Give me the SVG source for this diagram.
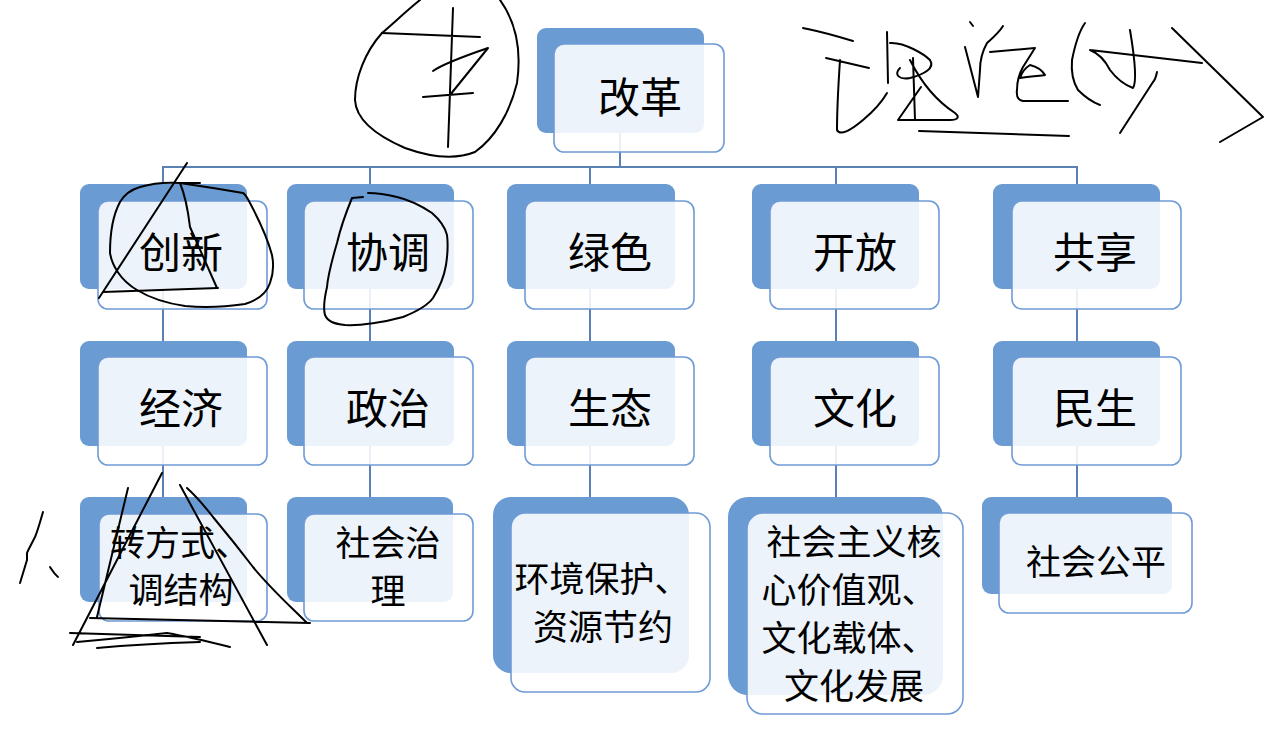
<svg xmlns="http://www.w3.org/2000/svg" width="1285" height="731" viewBox="0 0 1285 731">
<style>
.bk{fill:#6B9BD3}
.fr{fill:#ffffff;fill-opacity:0.88;stroke:#6F9BD6;stroke-width:1.6}
.t{font-family:"Noto Sans CJK SC","Noto Sans",sans-serif;fill:#000;text-anchor:middle;dominant-baseline:central}
.t42{font-size:42px}
.t35{font-size:35px}
.cn{stroke:#5A80B4;stroke-width:2;fill:none}
.ink{fill:none;stroke:#000;stroke-width:2;stroke-linecap:round;stroke-linejoin:round}
</style>
<rect width="1285" height="731" fill="#fff"/>
<g id="connectors">
<line class="cn" x1="620" y1="132" x2="620" y2="167"/>
<line class="cn" x1="162" y1="167" x2="1078" y2="167"/>
<line class="cn" x1="163" y1="167" x2="163" y2="514"/>
<line class="cn" x1="370" y1="167" x2="370" y2="514"/>
<line class="cn" x1="590" y1="167" x2="590" y2="514"/>
<line class="cn" x1="836" y1="167" x2="836" y2="514"/>
<line class="cn" x1="1077" y1="167" x2="1077" y2="514"/>
</g>
<g id="n-gaige"><rect class="bk" x="537" y="28" width="167" height="105" rx="9"/><rect class="fr" x="554" y="44" width="170" height="108" rx="10"/><text class="t t42" x="640" y="94">改革</text></g>
<g id="n-chuangxin"><rect class="bk" x="80" y="184" width="167" height="105" rx="9"/><rect class="fr" x="98" y="201" width="169" height="108" rx="10"/><text class="t t42" x="181" y="249">创新</text></g>
<g id="n-xietiao"><rect class="bk" x="287" y="184" width="167" height="105" rx="9"/><rect class="fr" x="304" y="201" width="169" height="108" rx="10"/><text class="t t42" x="388" y="249">协调</text></g>
<g id="n-lvse"><rect class="bk" x="507" y="184" width="168" height="105" rx="9"/><rect class="fr" x="525" y="201" width="169" height="108" rx="10"/><text class="t t42" x="610" y="249">绿色</text></g>
<g id="n-kaifang"><rect class="bk" x="752" y="184" width="167" height="105" rx="9"/><rect class="fr" x="770" y="201" width="169" height="108" rx="10"/><text class="t t42" x="855" y="249">开放</text></g>
<g id="n-gongxiang"><rect class="bk" x="993" y="184" width="167" height="105" rx="9"/><rect class="fr" x="1012" y="201" width="169" height="108" rx="10"/><text class="t t42" x="1095" y="249">共享</text></g>
<g id="n-jingji"><rect class="bk" x="80" y="341" width="167" height="105" rx="9"/><rect class="fr" x="98" y="357" width="169" height="108" rx="10"/><text class="t t42" x="181" y="405">经济</text></g>
<g id="n-zhengzhi"><rect class="bk" x="287" y="341" width="167" height="105" rx="9"/><rect class="fr" x="304" y="357" width="169" height="108" rx="10"/><text class="t t42" x="388" y="405">政治</text></g>
<g id="n-shengtai"><rect class="bk" x="507" y="341" width="168" height="105" rx="9"/><rect class="fr" x="525" y="357" width="169" height="108" rx="10"/><text class="t t42" x="610" y="405">生态</text></g>
<g id="n-wenhua"><rect class="bk" x="752" y="341" width="167" height="105" rx="9"/><rect class="fr" x="770" y="357" width="169" height="108" rx="10"/><text class="t t42" x="855" y="405">文化</text></g>
<g id="n-minsheng"><rect class="bk" x="993" y="341" width="167" height="105" rx="9"/><rect class="fr" x="1012" y="357" width="169" height="108" rx="10"/><text class="t t42" x="1095" y="405">民生</text></g>
<g id="n-zhuan"><rect class="bk" x="80" y="497" width="167" height="105" rx="9"/><rect class="fr" x="99" y="514" width="168" height="107" rx="10"/><text class="t t35" x="180" y="540">转方式、</text><text class="t t35" x="181" y="587">调结构</text></g>
<g id="n-shehuizhili"><rect class="bk" x="287" y="497" width="166" height="105" rx="9"/><rect class="fr" x="304" y="514" width="169" height="107" rx="10"/><text class="t t35" x="388" y="540">社会治</text><text class="t t35" x="388" y="588">理</text></g>
<g id="n-huanjing"><rect class="bk" x="493" y="497" width="196" height="176" rx="18"/><rect class="fr" x="511" y="513" width="199" height="179" rx="14"/><text class="t t35" x="602" y="576">环境保护、</text><text class="t t35" x="603" y="624">资源节约</text></g>
<g id="n-hexin"><rect class="bk" x="728" y="497" width="215" height="198" rx="20"/><rect class="fr" x="747" y="513" width="216" height="201" rx="16"/><text class="t t35" x="854" y="539">社会主义核</text><text class="t t35" x="849" y="587">心价值观、</text><text class="t t35" x="849" y="635">文化载体、</text><text class="t t35" x="854" y="683">文化发展</text></g>
<g id="n-gongping"><rect class="bk" x="982" y="497" width="190" height="97" rx="9"/><rect class="fr" x="999" y="513" width="193" height="100" rx="10"/><text class="t t35" x="1096" y="559">社会公平</text></g>
<g id="annotations">
<path class="ink" d="M420,0 C405,12 395,22 382,33 C365,52 355,78 355,100 C356,120 375,135 405,148 C430,157 455,160 475,152 C495,138 510,112 517,83 C521,55 518,25 500,0"/>
<path class="ink" d="M382,33 L480,37 M453,8 L448,147 M433,71 C440,66 450,61 488,48 L450,95 M423,97 L473,93"/>
<path class="ink" d="M803,28 C812,30 820,31 853,41 M826,58 L869,68 M887,32 L888,83 M840,60 C838,90 837,115 837,130 C840,136 850,131 863,120 C875,110 883,100 887,93 M890,43 C905,42 925,55 930,60 C935,68 925,74 910,78 C900,80 893,75 900,68"/>
<path class="ink" d="M913,58 L915,120 M921,87 L898,120 M910,60 C920,80 935,100 955,113 C960,117 958,120 950,120 L898,120 M919,131 L1069,136"/>
<path class="ink" d="M970,22 L973,26 M1003,26 C998,34 990,40 987,43 C982,52 980,62 980,70 L978,97 L965,47 M990,52 L1035,48 L1023,67 C1019,74 1017,80 1017,90 C1016,97 1018,100 1023,101 L1068,101 M1020,78 C1030,76 1040,76 1045,75 C1042,70 1038,67 1030,65 C1025,68 1022,72 1020,78"/>
<path class="ink" d="M1085,23 C1080,30 1075,45 1072,60 C1071,72 1073,82 1078,90 C1085,97 1092,102 1100,105 M1090,50 L1202,63 M1090,50 C1100,54 1106,62 1110,70 C1116,78 1125,85 1133,88 C1137,82 1135,60 1130,30 M1157,72 C1156,77 1155,80 1153,82 L1120,133 M1172,28 L1263,117 L1220,142"/>
<path class="ink" d="M120,202 C113,215 110,235 110,253 C112,265 120,280 137,290 C150,298 165,303 185,306 C205,308 225,307 245,304 C258,300 267,292 270,283 C273,275 274,265 272,255 C268,240 258,218 250,203 C247,197 245,194 243,193 L213,188 L180,183 C165,182 150,184 140,187 C130,190 124,195 120,202"/>
<path class="ink" d="M187,163 L99,298 M180,183 L200,183 M180,183 C185,195 188,210 190,227 L217,288 M103,292 L218,288"/>
<path class="ink" d="M352,198 L363,197 M352,198 C345,215 340,230 337,243 C332,260 328,275 327,287 C324,300 323,308 325,315 C328,322 335,324 345,325 C360,326 385,322 403,317 C418,311 428,305 433,298 C440,287 444,277 446,265 C448,252 448,243 447,235 C445,227 440,220 432,213 C420,205 410,200 397,197 C385,194 375,193 368,193"/>
<path class="ink" d="M43,512 C40,522 38,530 35,537 C31,545 28,550 27,553 L27,560 L20,583 M50,567 C52,570 54,574 58,577"/>
<path class="ink" d="M128,488 L97,617 M162,473 L73,645 M180,485 L267,645 M187,488 C198,498 206,508 213,517 C228,535 240,550 253,567 C270,588 290,606 307,623 M90,618 L310,623 M70,633 C110,634 160,636 200,637 M77,642 C110,639 140,636 167,633 C190,637 210,642 230,647 M97,648 C130,645 170,643 200,642"/>
</g>
</svg>
